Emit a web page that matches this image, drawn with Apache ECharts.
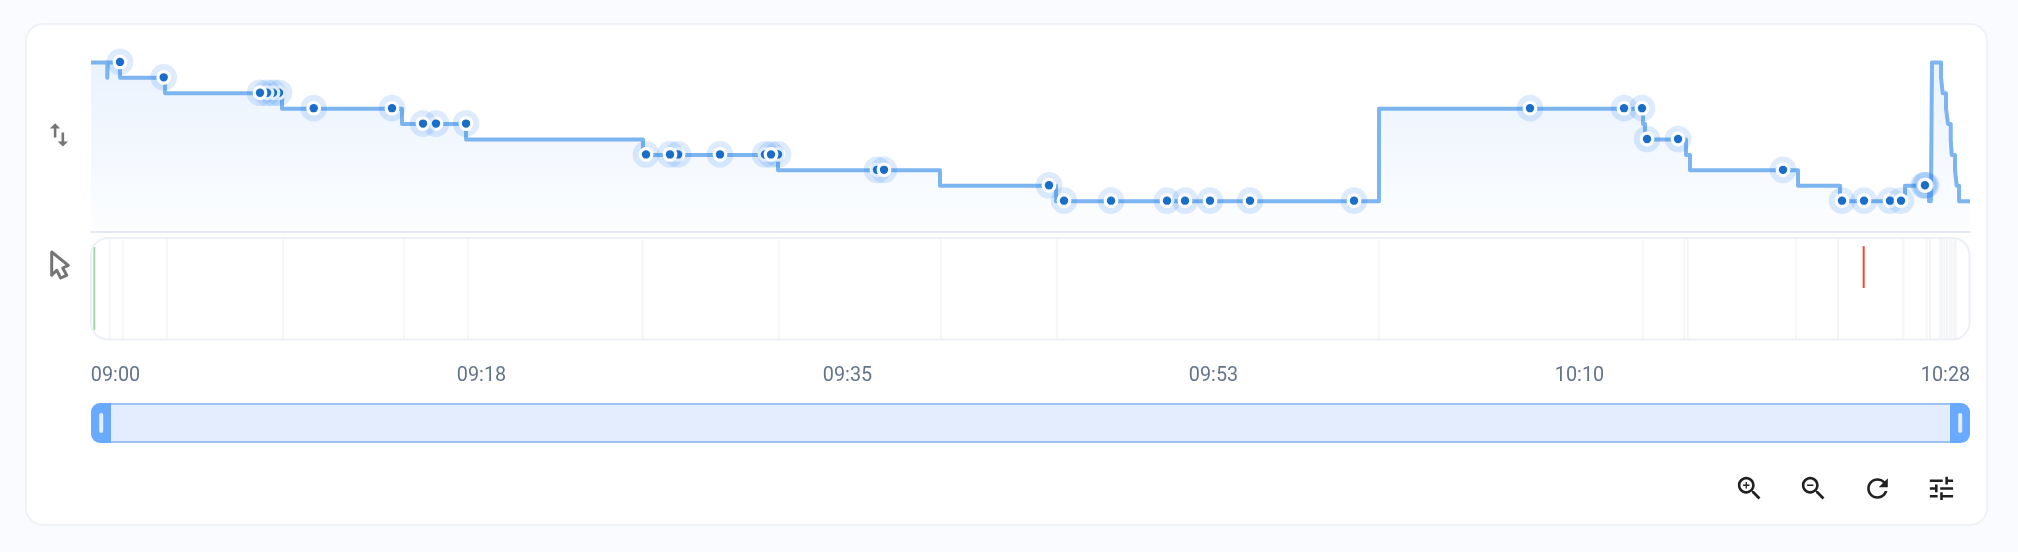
<!DOCTYPE html>
<html>
<head>
<meta charset="utf-8">
<style>
html,body{margin:0;padding:0;width:2018px;height:552px;background:#fafbff;overflow:hidden}
#card{position:absolute;left:25px;top:23px;width:1959px;height:499px;background:#fff;border:2px solid #eff2f7;border-radius:18px}
#chart{position:absolute;left:0;top:0;width:2018px;height:552px}
</style>
<script src="https://cdn.jsdelivr.net/npm/echarts@6/dist/echarts.min.js"></script>
</head>
<body>
<div id="card"></div>
<div id="chart"></div>
<script>
// Time is in minutes after 09:00; levels are the step heights of the upper track.
const tickLabels = ['09:00','09:18','09:35','09:53','10:10','10:28'];
const domainMinutes = [0, 88];
const stepTimes = [0,0.763,0.79,1.358,3.466,8.945,14.565,17.563,25.852,32.175,39.762,45.195,60.322,72.686,72.78,74.70,74.887,79.946,81.913,84.957,86.08,86.13,86.17,86.22,86.643,86.722,86.877,86.97,87.097,87.144,87.298,87.378,87.486,88];
const stepLevels = [9,8,9,8,7,6,5,4,3,2,1,0,6,5,4,3,2,1,0,1,0,1,0,9,8,7,6,5,4,3,2,1,0,0];
const pointTimes = [1.358,3.405,8.805,8.524,8.243,7.915,10.43,14.097,16.158,15.549,17.563,25.993,27.492,27.117,29.459,31.566,32.175,31.847,36.812,37.139,44.867,45.57,47.771,50.393,51.236,52.407,54.28,59.151,67.394,71.797,72.639,72.874,74.326,79.243,82.006,83.036,84.254,84.77,85.83,85.95,85.89];
const pointLevels = [9,8,7,7,7,7,6,6,5,5,5,3,3,3,3,3,3,3,2,2,1,0,0,0,0,0,0,0,6,6,6,4,4,2,0,0,0,0,1,1,1];
const eventTimes = [0.876,1.485,3.559,8.992,14.659,17.656,25.838,32.208,39.795,45.228,60.308,72.672,74.62,74.78,79.852,81.818,84.877,85.972,86.127,86.596,86.69,86.807,86.925,87.04,87.13,87.25,87.34];
const startMarkTime = [0.155];
const stopMarkTime = [83.02];

const stepData = stepTimes.map((t,i)=>[t,stepLevels[i]]);
const pointData = pointTimes.map((t,i)=>[t,pointLevels[i]]);

function renderPoint(params, api){
  const c = api.coord([api.value(0), api.value(1)]);
  const dot = (r,fill)=>({type:'circle',shape:{cx:c[0],cy:c[1]-0.5,r},style:{fill}});
  return {type:'group',children:[dot(13.3,'rgba(25,118,240,0.15)'),dot(7.4,'#ffffff'),dot(4.2,'#1a6ec8')]};
}
function renderStripe(color,width,low,high){
  return function(params, api){
    const x = api.coord([api.value(0),0])[0];
    const a = api.coord([api.value(0),low])[1], b = api.coord([api.value(0),high])[1];
    return {type:'line',shape:{x1:x,y1:a,x2:x,y2:b},style:{stroke:color,lineWidth:width}};
  };
}
const zoomGlass='M15.5 14h-.79l-.28-.27C15.41 12.59 16 11.11 16 9.5 16 5.91 13.09 3 9.5 3S3 5.91 3 9.5 5.91 16 9.5 16c1.61 0 3.09-.59 4.23-1.57l.27.28v.79l5 4.99L20.49 19l-4.99-5zm-6 0C7.01 14 5 11.99 5 9.5S7.01 5 9.5 5 14 7.01 14 9.5 11.99 14 9.5 14z';
const iconPaths={
  iconSwap:'M16 17.01V10h-2v7.01h-3L15 21l4-3.99h-3zM9 3L5 6.99h3V14h2V6.99h3L9 3z',
  iconZoomIn:zoomGlass+'M12 10h-2v2H9v-2H7V9h2V7h1v2h2v1z',
  iconZoomOut:zoomGlass+'M7 9h5v1H7z',
  iconRefresh:'M17.65 6.35C16.2 4.9 14.21 4 12 4c-4.42 0-7.99 3.58-7.99 8s3.57 8 7.99 8c3.73 0 6.84-2.55 7.73-6h-2.08c-.82 2.33-3.04 4-5.65 4-3.31 0-6-2.69-6-6s2.69-6 6-6c1.66 0 3.14.69 4.22 1.78L13 11h7V4l-2.35 2.35z',
  iconTune:'M3 17v2h6v-2H3zM3 5v2h10V5H3zm10 16v-2h8v-2h-8v-2h-2v6h2zM7 9v2H3v2h4v2h2V9H7zm14 4v-2H11v2h10zm-6-4h2V7h4V5h-4V3h-2v6z'
};
Object.keys(iconPaths).forEach(k=>echarts.graphic.registerShape(k,echarts.graphic.extendPath(iconPaths[k],{})));
const mkIcon=(name,left,top,fill)=>({type:'group',x:left,y:top,scaleX:1.29,scaleY:1.29,z:50,children:[{type:name,style:{fill},z:50}]});

const chart = echarts.init(document.getElementById('chart'),null,{renderer:'canvas'});
const hiddenX = {type:'value',min:domainMinutes[0],max:domainMinutes[1],axisLabel:{show:false},axisTick:{show:false},splitLine:{show:false},axisLine:{show:false}};
const hiddenY = {show:false,splitLine:{show:false}};
chart.setOption({
  animation:false,
  backgroundColor:'transparent',
  textStyle:{fontFamily:'Roboto'},
  grid:[
    {left:91,width:1879,top:47,height:185},
    {left:91,width:1879,top:238,height:102},
    {left:115.5,width:1830,top:360,height:1}
  ],
  xAxis:[
    Object.assign({},hiddenX,{gridIndex:0,axisLine:{show:true,onZero:false,lineStyle:{color:'#e5e9f1',width:2}}}),
    Object.assign({},hiddenX,{gridIndex:1}),
    {gridIndex:2,type:'value',min:0,max:tickLabels.length-1,interval:1,position:'bottom',
     axisLine:{show:false},axisTick:{show:false},splitLine:{show:false},
     axisLabel:{show:true,margin:5,color:'#64748b',fontFamily:'Roboto',fontSize:19.8,formatter:v=>tickLabels[v]}}
  ],
  yAxis:[
    Object.assign({},hiddenY,{gridIndex:0,type:'value',min:-2,max:10}),
    Object.assign({},hiddenY,{gridIndex:1,type:'value',min:0,max:1}),
    Object.assign({},hiddenY,{gridIndex:2,type:'value',min:0,max:1})
  ],
  series:[
    {type:'line',xAxisIndex:0,yAxisIndex:0,step:'end',data:stepData,showSymbol:false,symbol:'none',z:2,
     lineStyle:{color:'#7db5f0',width:4,cap:'butt',join:'round'},
     areaStyle:{origin:'start',color:new echarts.graphic.LinearGradient(0,0,0,1,[{offset:0,color:'rgba(25,118,240,0.13)'},{offset:1,color:'rgba(25,118,240,0.015)'}])}},
    {type:'custom',xAxisIndex:0,yAxisIndex:0,data:pointData,renderItem:renderPoint,clip:false,z:3,encode:{x:0,y:1}},
    {type:'custom',xAxisIndex:1,yAxisIndex:1,data:eventTimes.map(t=>[t]),renderItem:renderStripe('#f5f6f8',2,0.01,0.99),z:2,encode:{x:0}},
    {type:'custom',xAxisIndex:1,yAxisIndex:1,data:startMarkTime.map(t=>[t]),renderItem:renderStripe('#a5d6a7',2,0.098,0.912),z:3,encode:{x:0}},
    {type:'custom',xAxisIndex:1,yAxisIndex:1,data:stopMarkTime.map(t=>[t]),renderItem:renderStripe('#f44336',2,0.51,0.92),z:3,encode:{x:0}}
  ],
  graphic:[
    // event strip frame
    {type:'rect',shape:{x:91,y:238,width:1878.5,height:101.5,r:17},style:{fill:'none',stroke:'#edf0f6',lineWidth:2},z:40},
    // range slider
    {type:'rect',shape:{x:111,y:403,width:1839,height:40},style:{fill:'#e3edfd'},z:40},
    {type:'rect',shape:{x:111,y:403,width:1839,height:2},style:{fill:'#9dc1f2'},z:41},
    {type:'rect',shape:{x:111,y:441,width:1839,height:2},style:{fill:'#9dc1f2'},z:41},
    {type:'rect',shape:{x:91,y:403,width:20,height:40,r:[9,0,0,9]},style:{fill:'#69aaff'},z:42},
    {type:'rect',shape:{x:1950,y:403,width:20,height:40,r:[0,9,9,0]},style:{fill:'#69aaff'},z:42},
    {type:'rect',shape:{x:99.2,y:413,width:4,height:20,r:2},style:{fill:'#e3edfd'},z:43},
    {type:'rect',shape:{x:1958.2,y:413,width:4,height:20,r:2},style:{fill:'#e3edfd'},z:43},
    // icons
    mkIcon('iconSwap',43.5,119.5,'#757575'),
    {type:'polygon',shape:{points:[[51.7,252],[68.3,265.3],[62.7,268],[66.7,275.3],[60.7,278],[56.7,270.3],[51.7,275.3]]},style:{fill:'#fff',stroke:'#757575',lineWidth:3,lineJoin:'round'},z:50},
    mkIcon('iconZoomIn',1734,473,'#212121'),
    mkIcon('iconZoomOut',1798,473,'#212121'),
    mkIcon('iconRefresh',1862,473,'#212121'),
    mkIcon('iconTune',1926,473,'#212121')
  ]
});
</script>
</body>
</html>
